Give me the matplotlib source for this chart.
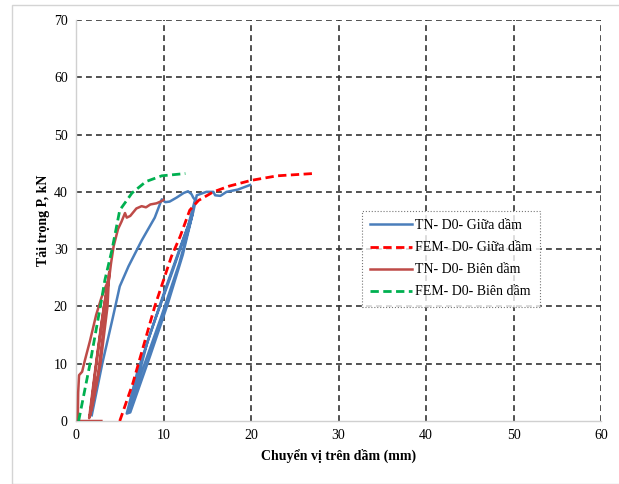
import matplotlib.pyplot as plt
from matplotlib.patches import Rectangle

plt.rcParams['font.family'] = ['Liberation Serif', 'DejaVu Serif']

# TN - D0 - Giữa dầm (đo thực nghiệm, có chu kỳ dỡ tải)
tn_giua_x = [1.8, 3.0, 4.2, 5.0, 6.0, 7.5, 9.0, 9.8, 10.2, 10.7, 11.5, 12.3, 12.8, 13.2, 13.4, 13.6,
             12.8, 11.0, 9.0, 7.0, 5.8, 6.2, 8.5, 10.5, 12.2, 13.3, 12.3, 10.2, 8.2, 6.3, 6.0,
             7.5, 9.7, 11.8, 13.4, 13.8, 14.9, 15.7, 15.9, 16.5, 17.2, 18.5, 19.9]
tn_giua_y = [1.0, 10.0, 18.0, 23.5, 27.0, 31.5, 35.5, 38.7, 38.2, 38.3, 39.0, 39.8, 40.1, 39.6, 39.0, 38.6,
             34.0, 26.0, 17.5, 8.5, 1.3, 1.5, 11.5, 20.5, 29.0, 36.0, 32.0, 23.0, 14.0, 3.0, 1.8,
             8.5, 18.0, 27.5, 36.5, 39.4, 40.0, 40.0, 39.4, 39.3, 40.0, 40.4, 41.2]

# FEM - D0 - Giữa dầm
fem_giua_x = [5.0, 6.5, 9.0, 10.9, 11.9, 13.0, 14.0, 15.7, 17.5, 20.0, 23.0, 27.1]
fem_giua_y = [0.0, 6.6, 20.0, 28.7, 32.2, 36.8, 38.5, 40.0, 41.0, 42.0, 42.8, 43.2]

# TN - D0 - Biên dầm
tn_bien_x = [2.9, 0.2, 0.25, 0.35, 0.7, 1.0, 1.6, 2.3, 2.9, 3.4, 3.7, 3.3, 2.5, 1.6, 1.5,
             2.2, 2.9, 3.6, 3.8, 3.6, 2.8, 1.8, 1.6, 2.4, 3.2, 3.8, 4.0, 4.3, 4.8, 5.2,
             5.6, 5.8, 6.2, 6.9, 7.5, 8.0, 8.5, 9.2, 9.8, 10.0]
tn_bien_y = [0.0, 0.0, 5.0, 8.0, 8.6, 10.5, 14.0, 18.5, 21.5, 23.5, 24.5, 18.0, 8.0, 1.0, 0.5,
             9.0, 17.0, 24.0, 26.0, 20.0, 10.0, 2.0, 1.0, 11.0, 20.0, 25.0, 27.5, 30.5, 33.5, 34.8,
             36.3, 35.5, 35.8, 37.1, 37.5, 37.3, 37.8, 38.0, 38.4, 38.6]

# FEM - D0 - Biên dầm
fem_bien_x = [0.3, 1.6, 2.9, 3.3, 4.1, 5.0, 6.4, 8.0, 9.8, 12.5]
fem_bien_y = [0.0, 10.0, 21.0, 24.6, 29.8, 36.8, 39.8, 41.8, 42.8, 43.2]

x_ticks = [0, 10, 20, 30, 40, 50, 60]
y_ticks = [0, 10, 20, 30, 40, 50, 60, 70]

fig = plt.figure(figsize=(6.19, 4.84), dpi=100)
fig.patches.append(Rectangle((12 / 619, 0), 1, 1 - 5 / 484, transform=fig.transFigure,
                             fill=False, edgecolor='#d4d4d4', lw=1))
ax = fig.add_axes([76 / 619, 1 - 421 / 484, 525 / 619, 401 / 484])

# lưới nét đứt
for xv in x_ticks[1:]:
    ax.axvline(xv, color='#333333', lw=1.2, ls=(0, (3.5, 2.5)), zorder=1)
for yv in y_ticks[1:]:
    ax.axhline(yv, color='#333333', lw=1.2, ls=(0, (3.5, 2.5)), zorder=1)

ax.plot(tn_giua_x, tn_giua_y, color='#4a7ebb', lw=1.8, label='TN- D0- Giữa dầm', zorder=3)
ax.plot(fem_giua_x, fem_giua_y, color='#ff0000', lw=2, ls=(0, (3, 1.6)), label='FEM- D0- Giữa dầm', zorder=3)
ax.plot(tn_bien_x, tn_bien_y, color='#be4b48', lw=1.8, label='TN- D0- Biên dầm', zorder=3)
ax.plot(fem_bien_x, fem_bien_y, color='#00b050', lw=2, ls=(0, (3, 1.6)), label='FEM- D0- Biên dầm', zorder=3)

ax.set_xlim(0, 60)
ax.set_ylim(0, 70)
ax.set_xticks(x_ticks)
ax.set_yticks(y_ticks)
ax.tick_params(length=0, labelsize=10, pad=6)
for s in ['top', 'right']:
    ax.spines[s].set_visible(False)
for s in ['left', 'bottom']:
    ax.spines[s].set_color('#d0d0d0')
    ax.spines[s].set_linewidth(1)

ax.set_xlabel('Chuyển vị trên dầm (mm)', fontsize=10, fontweight='bold', labelpad=5)
ax.set_ylabel('Tải trọng P, kN', fontsize=10, fontweight='bold', labelpad=3)

leg = ax.legend(loc='upper left', bbox_to_anchor=(286 / 525, (421 - 211) / 401), fontsize=10,
                frameon=True, fancybox=False, handlelength=3.0, handletextpad=0.2,
                labelspacing=0.65, borderpad=0.6, borderaxespad=0)
leg.get_frame().set_edgecolor('#555555')
leg.get_frame().set_linestyle(':')
leg.get_frame().set_linewidth(0.8)

plt.savefig('out.png', dpi=100)
